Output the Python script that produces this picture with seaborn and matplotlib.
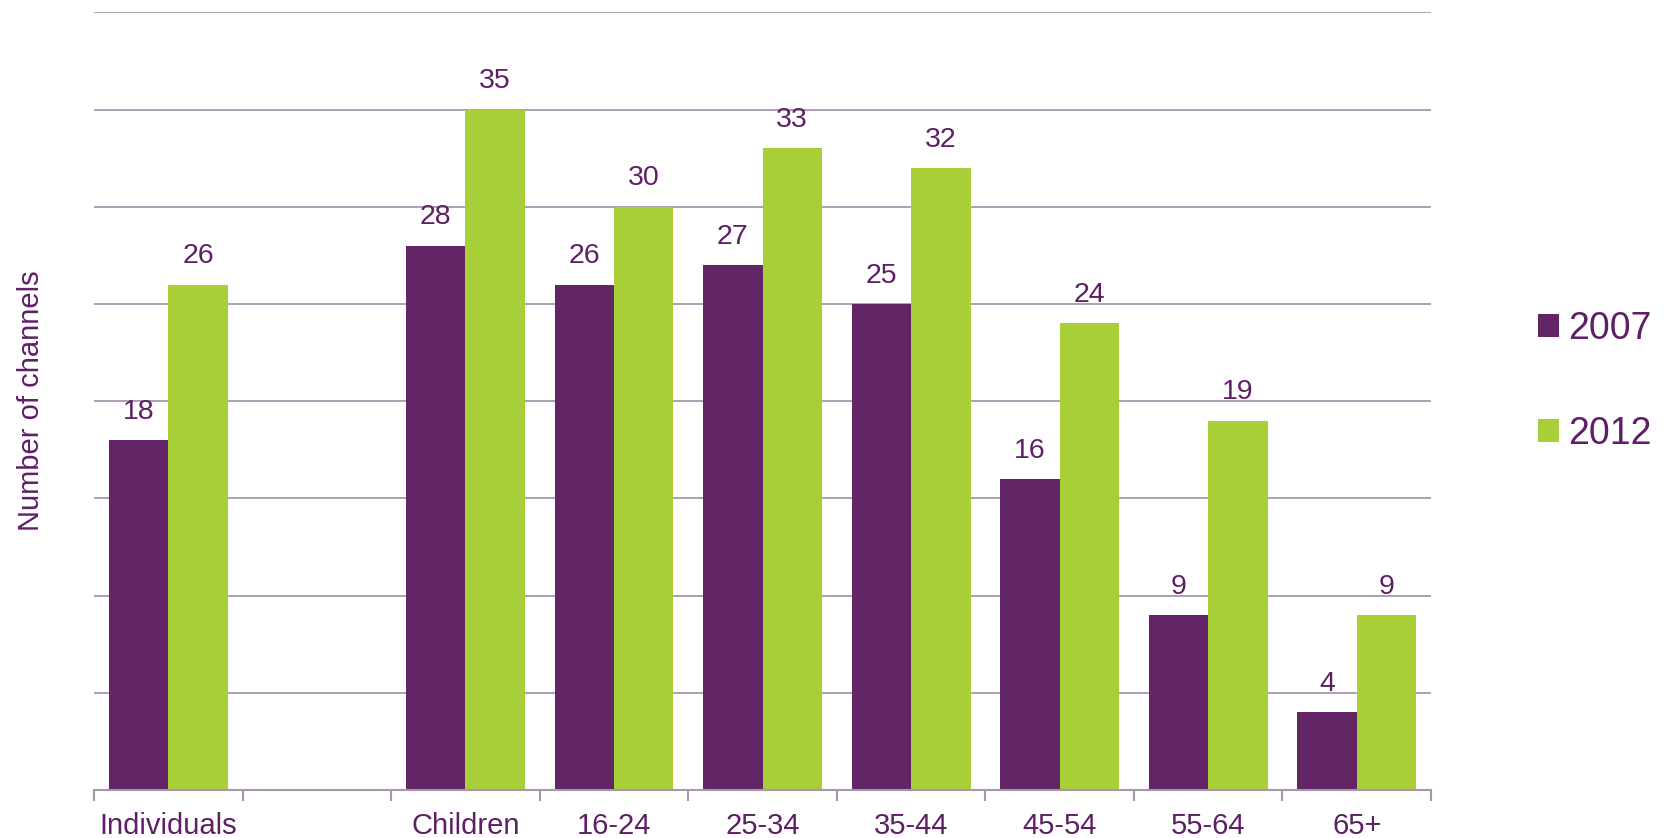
import matplotlib
matplotlib.use("Agg")
import matplotlib.pyplot as plt
import seaborn as sns
import pandas as pd
import numpy as np

categories = ["Individuals", " ", "Children", "16-24", "25-34", "35-44", "45-54", "55-64", "65+"]
data_cats = ["Individuals", "Children", "16-24", "25-34", "35-44", "45-54", "55-64", "65+"]
values_2007 = [18, 28, 26, 27, 25, 16, 9, 4]
values_2012 = [26, 35, 30, 33, 32, 24, 19, 9]
years = ["2007", "2012"]

PURPLE = "#622566"
GREEN = "#A8CE38"
GRID = "#A896AE"
TEXT = "#5E1F66"

df = pd.DataFrame({
    "group": data_cats * 2,
    "year": [years[0]] * len(data_cats) + [years[1]] * len(data_cats),
    "value": values_2007 + values_2012,
})

sns.set_theme(style="white")
plt.rcParams["font.family"] = ["Liberation Sans", "DejaVu Sans"]

fig = plt.figure(figsize=(16.64, 8.38), dpi=100)
ax = fig.add_axes([0.0565, 0.0573, 0.8035, 0.928])

sns.barplot(data=df, x="group", y="value", hue="year", order=categories,
            hue_order=years, palette=[PURPLE, GREEN], width=0.8,
            saturation=1, ax=ax, legend=True, linewidth=0, errorbar=None)

ax.set_ylim(0, 40)
ax.set_xlim(-0.5, len(categories) - 0.5)
ax.set_yticks(np.arange(5, 41, 5))
ax.yaxis.grid(True, color=GRID, linewidth=1.3)
ax.set_axisbelow(True)
ax.tick_params(axis="y", left=False, labelleft=False)

for s in ["top", "right", "left"]:
    ax.spines[s].set_visible(False)
ax.spines["bottom"].set_color(GRID)
ax.spines["bottom"].set_linewidth(1.5)

ax.set_xticks(range(len(categories)))
ax.set_xticklabels(categories, fontsize=21, color=TEXT)
ax.tick_params(axis="x", length=0, pad=16)
ax.set_xticks(np.arange(-0.5, len(categories), 1.0), minor=True)
ax.tick_params(axis="x", which="minor", bottom=True, length=8, width=1.5, color=GRID)
ax.set_xlabel("")
ax.set_ylabel("Number of channels", fontsize=21, color=TEXT, labelpad=35)

for cont in ax.containers:
    ax.bar_label(cont, fontsize=20.5, color=TEXT, padding=11)

handles, labels = ax.get_legend_handles_labels()
ax.legend_.remove()
fig.legend(handles, labels, loc="center left", bbox_to_anchor=(0.904, 0.545),
           frameon=False, fontsize=27, labelcolor=TEXT, handlelength=0.55,
           handleheight=0.55, handletextpad=0.25, labelspacing=1.85)

fig.savefig("out.png", dpi=100)
